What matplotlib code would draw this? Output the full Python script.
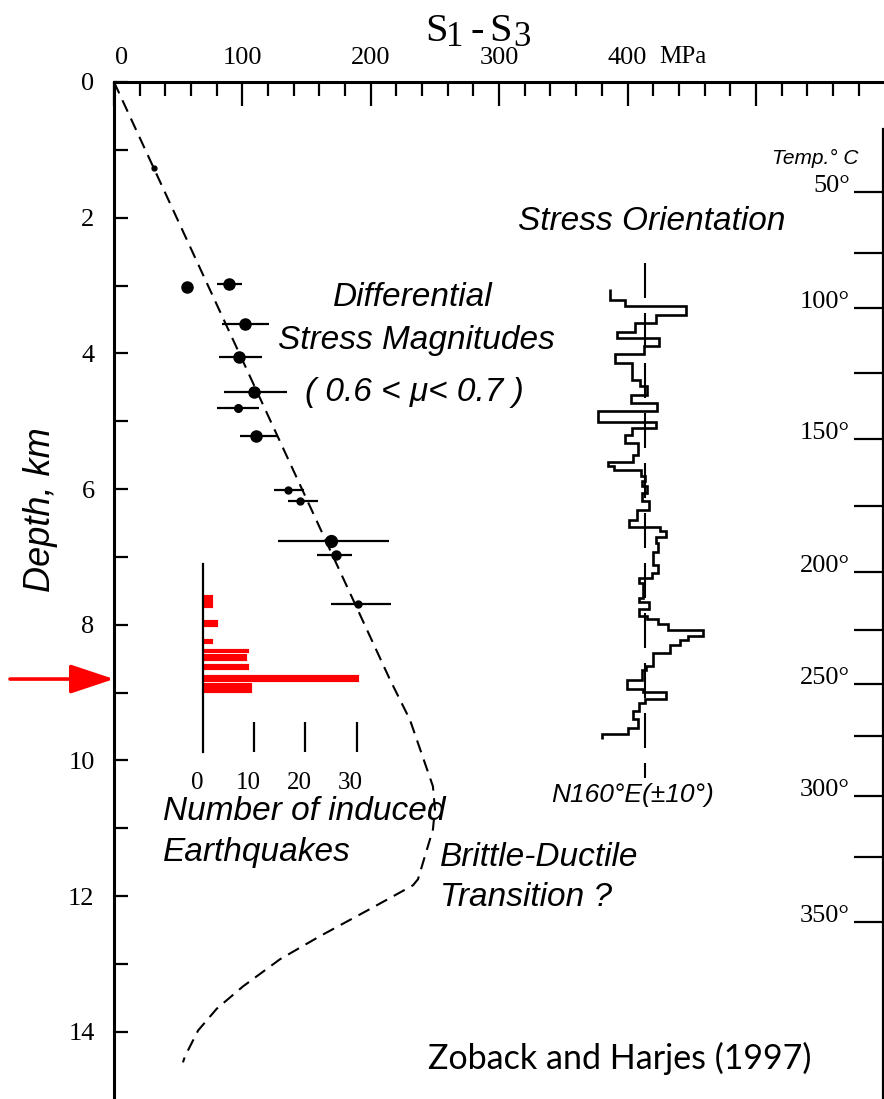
import matplotlib
matplotlib.use("Agg")
import matplotlib.pyplot as plt
import matplotlib.transforms as mtransforms
from matplotlib.ticker import MultipleLocator
import numpy as np

plt.rcParams['lines.scale_dashes'] = False

# ---------------- data ----------------
# Differential stress estimates (MPa) vs depth (km)
stress_mpa = [31, 56.6, 89.8, 102.3, 97.1, 109.3, 96.3, 110.6, 135.7, 144.9, 168.8, 172.9, 190.3]
stress_depth = [1.27, 3.02, 2.98, 3.57, 4.05, 4.57, 4.81, 5.22, 6.01, 6.18, 6.77, 6.97, 7.69]
stress_low = [np.nan, np.nan, 80.5, 83.9, 82.0, 85.7, 80.5, 98.1, 125.0, 135.3, 128.0, 157.9, 168.8]
stress_high = [np.nan, np.nan, 99.5, 120.7, 115.5, 134.7, 113.2, 126.7, 148.2, 159.1, 214.2, 185.6, 215.5]

# Frictional strength envelope (dashed curve)
curve_mpa = [0, 215, 230.5, 248.4, 250, 248.4, 236.8, 232.9, 199.4, 160.4, 129.3, 100.5, 80.0, 65.5, 55.3, 53.7]
curve_depth = [0, 8.81, 9.40, 10.38, 10.72, 11.02, 11.75, 11.84, 12.19, 12.59, 12.93, 13.33, 13.66, 13.98, 14.36, 14.45]

# Induced earthquakes histogram
eq_top = [7.54, 7.92, 8.19, 8.34, 8.42, 8.57, 8.73, 8.85]
eq_bottom = [7.75, 8.03, 8.29, 8.42, 8.54, 8.67, 8.85, 9.01]
eq_counts = [2, 3, 2, 9, 8.5, 9, 30.5, 9.5]
eq_ticks = [0, 10, 20, 30]

# Stress orientation deviation from N160E (deg) in depth intervals (km)
orient_edges = [3.053, 3.211, 3.309, 3.432, 3.545, 3.678, 3.775, 3.898, 4.010, 4.143,
                4.389, 4.487, 4.610, 4.732, 4.856, 5.018, 5.100, 5.209, 5.321, 5.493,
                5.601, 5.666, 5.725, 5.813, 5.887, 5.960, 6.057, 6.181, 6.303, 6.461,
                6.558, 6.623, 6.705, 6.794, 6.932, 7.113, 7.236, 7.309, 7.383, 7.604,
                7.669, 7.766, 7.875, 7.909, 7.982, 8.071, 8.169, 8.228, 8.302, 8.414,
                8.601, 8.660, 8.807, 8.944, 8.994, 9.091, 9.150, 9.274, 9.396, 9.518,
                9.617, 9.691]
orient_dev = [-17.5, -10, 20.5, 5.3, -5, -14.2, 7, -0.3, -15, -6.3,
              -2.5, 1.2, -7, 6.2, -23.3, 5.3, -6.7, -10, -3.7, -5.8,
              -18.3, -15.3, -2, 0, -1.3, 0.8, -1.7, 2, -4.2, -8,
              7.5, 10.3, 5.3, 6.7, 4.2, 6.3, 3.3, -2.8, -0.8, -3,
              2.2, -3, 0.8, 6.7, 11.3, 28.8, 21.7, 17.5, 12.5, 4.2,
              0.3, -1.7, -9.2, -0.8, 10.3, 0, -2.8, -5.8, -3.7, -8.3, -21.3]
orient_ref_range = [2.667, 10.256]

# Temperature scale
temp_labels = ['50°', '100°', '150°', '200°', '250°', '300°', '350°']
temp_major_depth = [1.617, 3.335, 5.261, 7.216, 8.871, 10.522, 12.383]
temp_minor_depth = [2.515, 4.293, 6.248, 8.075, 9.633, 11.416]

depth_ticks = [0, 2, 4, 6, 8, 10, 12, 14]
mpa_ticks = [0, 100, 200, 300, 400, 500]
mpa_labels = ['0', '100', '200', '300', '400', '']
arrow_depth = 8.8

# ---------------- style ----------------
marker_sizes = [3.5, 8, 8, 8, 8, 8, 5.5, 8, 5, 5, 8.5, 6.5, 5]
SERIF = 'Liberation Serif'
SANS = 'Liberation Sans'

W, H, DPI = 884, 1099, 100
fig = plt.figure(figsize=(W / DPI, H / DPI), dpi=DPI)
rect = [114 / W, 0, 769 / W, (H - 82) / H]
YMAX = 14.99

ax = fig.add_axes(rect)
ax.set_xlim(0, 599)
ax.set_ylim(YMAX, 0)
ax.xaxis.tick_top()
ax.spines['right'].set_visible(False)
ax.spines['bottom'].set_visible(False)
for s in ('top', 'left'):
    ax.spines[s].set_linewidth(2.2)
ax.set_xticks(mpa_ticks)
ax.set_xticklabels(mpa_labels, family=SERIF, fontsize=19)
ax.xaxis.set_minor_locator(MultipleLocator(20))
ax.tick_params(axis='x', which='major', direction='in', length=17, width=1.6,
               top=True, bottom=False, labeltop=True, labelbottom=False, pad=9)
ax.tick_params(axis='x', which='minor', direction='in', length=10, width=1.6,
               top=True, bottom=False)
ax.set_yticks(depth_ticks)
ax.set_yticklabels([str(d) for d in depth_ticks], family=SERIF, fontsize=19)
ax.yaxis.set_minor_locator(MultipleLocator(1))
ax.tick_params(axis='y', which='both', direction='in', length=10, width=1.6,
               left=True, right=False, pad=14)
# the "0" label of the top axis sits slightly right of its tick
first = ax.xaxis.get_majorticklabels()[0]
first.set_transform(first.get_transform() +
                    mtransforms.ScaledTranslation(8 / DPI, 0, fig.dpi_scale_trans))

# dashed envelope
ax.plot(curve_mpa, curve_depth, color='black', lw=1.5, dashes=(9, 5.5))

# stress points
for x, d, lo, hi, ms in zip(stress_mpa, stress_depth, stress_low, stress_high, marker_sizes):
    if not np.isnan(lo):
        ax.hlines(d, lo, hi, color='black', lw=1.6)
    ax.plot([x], [d], 'o', color='black', markersize=ms)

# red arrow
ax.annotate('', xy=(0, arrow_depth), xytext=(-(114 - 10) / 1.284, arrow_depth),
            xycoords='data', textcoords='data', annotation_clip=False,
            arrowprops=dict(arrowstyle='-|>,head_length=2.7,head_width=0.9',
                            color='red', lw=2.6, shrinkA=0, shrinkB=0,
                            mutation_scale=10))

# ---- histogram axes ----
axh = fig.add_axes(rect, frameon=False)
axh.set_xlim(-17.38, 132.8)
axh.set_ylim(YMAX, 0)
axh.axis('off')
centers = [(a + b) / 2 for a, b in zip(eq_top, eq_bottom)]
heights = [b - a for a, b in zip(eq_top, eq_bottom)]
axh.barh(centers, eq_counts, height=heights, left=0, color='#ff0000',
         edgecolor='white', linewidth=0.6)
axh.plot([0, 0], [7.11, 9.87], color='black', lw=1.6)
axh.vlines(eq_ticks[1:], 9.43, 9.87, color='black', lw=1.6)
for t in eq_ticks:
    axh.text(t - 1.2, 10.33, str(t), ha='center', va='center', family=SERIF, fontsize=18)

# ---- stress orientation axes ----
axp = fig.add_axes(rect, frameon=False)
axp.set_xlim(-265.5, 119)
axp.set_ylim(YMAX, 0)
axp.axis('off')
axp.plot([0, 0], orient_ref_range, color='black', lw=1.5, dashes=(25.2, 10.8))
axp.stairs(orient_dev, orient_edges, orientation='horizontal', baseline=None,
           color='black', lw=1.9)

# ---- temperature axis ----
ax2 = ax.twinx()
ax2.set_ylim(YMAX, 0)
for s in ('top', 'left', 'bottom'):
    ax2.spines[s].set_visible(False)
ax2.spines['right'].set_linewidth(1.6)
ax2.spines['right'].set_bounds(0.7, YMAX)
ax2.set_yticks(temp_major_depth)
ax2.set_yticks(temp_minor_depth, minor=True)
ax2.set_yticklabels(temp_labels, family=SERIF, fontsize=19)
ax2.tick_params(axis='y', which='both', direction='in', length=21, width=1.6,
                right=True, left=False, labelright=True, pad=-24)
for lbl in ax2.get_yticklabels():
    lbl.set_horizontalalignment('right')
    lbl.set_verticalalignment('baseline')


def ftext(x, y, s, **kw):
    fig.text(x / W, 1 - y / H, s, **kw)


it = dict(family=SANS, style='italic')
ftext(413, 298, 'Differential', ha='center', va='center', fontsize=24, **it)
ftext(416, 341, 'Stress Magnitudes', ha='center', va='center', fontsize=24, **it)
ftext(414, 393, '( 0.6 < μ< 0.7 )', ha='center', va='center', fontsize=24, **it)
ftext(652, 222, 'Stress Orientation', ha='center', va='center', fontsize=24, **it)
ftext(858, 158, 'Temp.° C', ha='right', va='center', fontsize=15, **it)
ftext(633, 795, 'N160°E(±10°)', ha='center', va='center', fontsize=19, **it)
ftext(163, 812, 'Number of induced', ha='left', va='center', fontsize=24, **it)
ftext(163, 853, 'Earthquakes', ha='left', va='center', fontsize=24, **it)
ftext(440, 858, 'Brittle-Ductile', ha='left', va='center', fontsize=24, **it)
ftext(440, 898, 'Transition ?', ha='left', va='center', fontsize=24, **it)
ftext(40, 510, 'Depth, km', ha='center', va='center', rotation=90, fontsize=26, **it)
ftext(428, 1058, 'Zoback and Harjes (1997)', ha='left', va='center', fontsize=24.5,
      family='Lato')
ftext(683, 57, 'MPa', ha='center', va='center', family=SERIF, fontsize=18)

# title S1 - S3
ftext(425, 41, 'S', ha='left', va='baseline', family=SERIF, fontsize=29)
ftext(446, 46, '1', ha='left', va='baseline', family=SERIF, fontsize=25)
ftext(470, 41, '-', ha='left', va='baseline', family=SERIF, fontsize=29)
ftext(489, 41, 'S', ha='left', va='baseline', family=SERIF, fontsize=29)
ftext(513, 46, '3', ha='left', va='baseline', family=SERIF, fontsize=25)

fig.savefig('out.png', dpi=DPI)
